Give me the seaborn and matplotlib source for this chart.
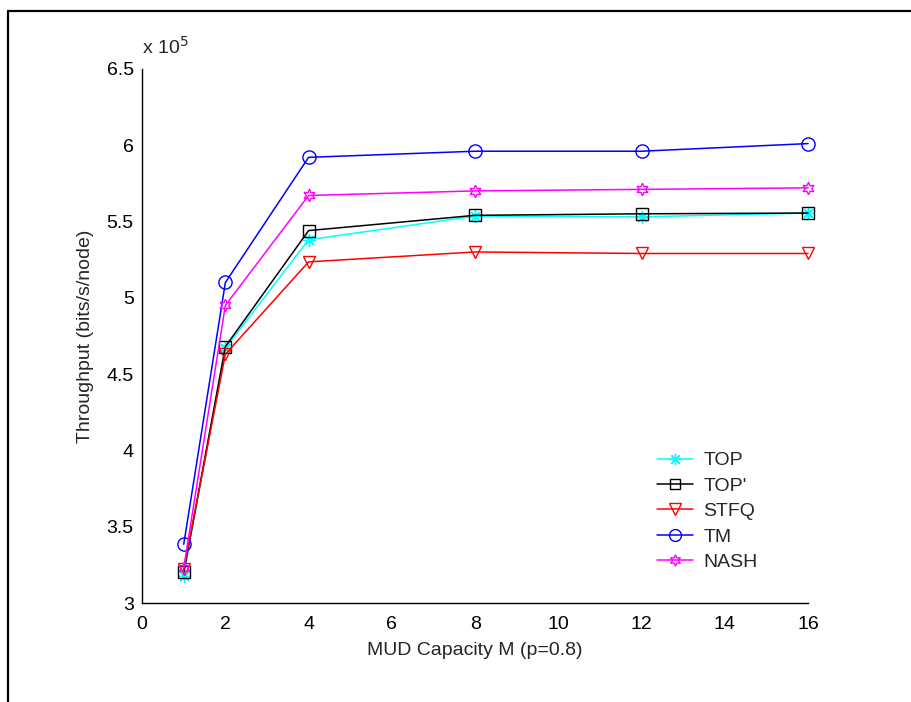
import matplotlib
matplotlib.use("Agg")
import matplotlib.pyplot as plt
from matplotlib.lines import Line2D
from matplotlib.ticker import FuncFormatter, MultipleLocator
import seaborn as sns
import pandas as pd

# MUD capacity values on the x axis
capacity = [1, 2, 4, 8, 12, 16]

# Throughput per node (bits/s/node)
top_vals = [3.18e5, 4.67e5, 5.38e5, 5.535e5, 5.53e5, 5.555e5]
top_prime_vals = [3.20e5, 4.68e5, 5.44e5, 5.54e5, 5.55e5, 5.555e5]
stfq_vals = [3.22e5, 4.63e5, 5.235e5, 5.30e5, 5.29e5, 5.29e5]
tm_vals = [3.385e5, 5.10e5, 5.92e5, 5.96e5, 5.96e5, 6.01e5]
nash_vals = [3.23e5, 4.95e5, 5.67e5, 5.70e5, 5.71e5, 5.72e5]

series_names = ["TOP", "TOP'", "STFQ", "TM", "NASH"]
series_vals = [top_vals, top_prime_vals, stfq_vals, tm_vals, nash_vals]
series_colors = ["#00ffff", "#000000", "#ff0000", "#0000ff", "#ff00ff"]
series_markers = [(8, 2, 0), "s", "v", "o", (6, 1, 0)]
series_msize = [9, 8.5, 9, 9.5, 9]

sns.set_theme(style="white")
plt.rcParams["font.family"] = ["Liberation Sans", "DejaVu Sans"]
plt.rcParams["font.size"] = 14

df = pd.DataFrame({
    "M": capacity * len(series_names),
    "Throughput": [v for vals in series_vals for v in vals],
    "Scheme": [n for n in series_names for _ in capacity],
})

fig = plt.figure(figsize=(9.11, 7.02), dpi=100)
ax = fig.add_axes([0.156, 0.141, 0.731, 0.761])

for name, color, marker, ms in zip(series_names, series_colors, series_markers, series_msize):
    sub = df[df["Scheme"] == name]
    sns.lineplot(data=sub, x="M", y="Throughput", ax=ax, color=color,
                 marker=marker, markersize=ms, markerfacecolor="none",
                 markeredgecolor=color, markeredgewidth=1.0, linewidth=1.1,
                 label=name, legend=False, clip_on=False)

ax.set_xlim(0, 16)
ax.set_ylim(3e5, 6.5e5)
ax.xaxis.set_major_locator(MultipleLocator(2))
ax.yaxis.set_major_locator(MultipleLocator(0.5e5))
ax.yaxis.set_major_formatter(FuncFormatter(lambda v, p: f"{v / 1e5:g}"))

for side in ["top", "right"]:
    ax.spines[side].set_visible(False)
for side in ["left", "bottom"]:
    ax.spines[side].set_color("black")
    ax.spines[side].set_linewidth(1.0)

ax.tick_params(axis="both", direction="in", length=6, width=1.0,
               color="black", labelsize=14, labelcolor="black")
ax.tick_params(axis="x", pad=9)
ax.tick_params(axis="y", pad=6)

ax.set_xlabel("MUD Capacity M (p=0.8)", fontsize=14, labelpad=7)
ax.set_ylabel("Throughput (bits/s/node)", fontsize=14, labelpad=9)

ax.text(0.0, 1.02, r"x 10$^{5}$", transform=ax.transAxes,
        ha="left", va="bottom", fontsize=14)

handles = [Line2D([], [], color=c, marker=m, markersize=ms * 0.9, markerfacecolor="none",
                  markeredgecolor=c, markeredgewidth=1.0, linewidth=1.1)
           for c, m, ms in zip(series_colors, series_markers, series_msize)]
ax.legend(handles, series_names, loc="upper left", bbox_to_anchor=(0.773, 0.283),
          frameon=False, borderpad=0, borderaxespad=0, handlelength=1.85,
          handletextpad=0.55, labelspacing=0.4, fontsize=14)

# Outer frame along the top and left edges of the figure
fig.add_artist(Line2D([8 / 911, 8 / 911], [0, 1 - 11 / 702], color="black",
                      linewidth=1.6, transform=fig.transFigure))
fig.add_artist(Line2D([8 / 911, 1], [1 - 11 / 702, 1 - 11 / 702], color="black",
                      linewidth=1.6, transform=fig.transFigure))

fig.savefig("out.png", dpi=100)
